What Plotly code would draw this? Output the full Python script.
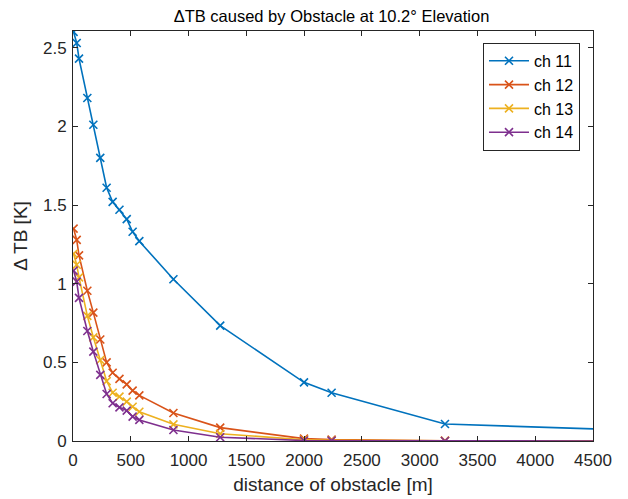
import plotly.graph_objects as go

# distances of obstacle [m] (shared by all channels; last point lies beyond the axis limit)
distance = [5, 32, 52, 124, 176, 236, 291, 343, 402, 465, 516, 574, 869, 1274, 1999, 2238, 3219, 4700]

ch11 = [2.60, 2.53, 2.43, 2.18, 2.01, 1.80, 1.61, 1.52, 1.47, 1.41, 1.33, 1.27,
        1.028, 0.733, 0.373, 0.307, 0.108, 0.072]
ch12 = [1.35, 1.278, 1.18, 0.955, 0.816, 0.645, 0.50, 0.434, 0.395, 0.36, 0.32, 0.29,
        0.178, 0.085, 0.015, 0.009, 0.002, 0.001]
ch13 = [1.19, 1.12, 1.04, 0.795, 0.659, 0.515, 0.381, 0.307, 0.282, 0.25, 0.218, 0.186,
        0.106, 0.046, 0.008, 0.005, 0.001, 0.0]
ch14 = [1.083, 1.013, 0.91, 0.699, 0.568, 0.42, 0.299, 0.24, 0.214, 0.193, 0.155, 0.134,
        0.07, 0.024, 0.003, 0.002, 0.0, 0.0]

series = [("ch 11", ch11, "#0072BD"),
          ("ch 12", ch12, "#D95319"),
          ("ch 13", ch13, "#EDB120"),
          ("ch 14", ch14, "#7E2F8E")]

font = "Liberation Sans, Arial, sans-serif"
axis_color = "#262626"

fig = go.Figure()
for name, vals, col in series:
    fig.add_trace(go.Scatter(
        x=distance, y=vals, name=name, mode="lines+markers",
        line=dict(color=col, width=1.6),
        marker=dict(symbol="x-thin", size=8, line=dict(width=1.6, color=col)),
        cliponaxis=True,
    ))

axis_common = dict(
    showline=True, linecolor=axis_color, linewidth=1, mirror="ticks",
    ticks="inside", ticklen=5, tickcolor=axis_color,
    showgrid=False, zeroline=False,
    tickfont=dict(family=font, size=17, color=axis_color),
)

# the page adds an 8px body margin, so margins are shifted to compensate
fig.update_layout(
    width=628, height=499,
    margin=dict(l=62, r=43, t=23, b=66),
    paper_bgcolor="white", plot_bgcolor="white",
    font=dict(family=font, color=axis_color),
    title=dict(text="ΔTB caused by Obstacle at 10.2° Elevation",
               x=(62 + 523 / 2) / 628, xanchor="center", y=1 - 8 / 499, yanchor="middle",
               font=dict(family=font, size=16.5, color="black")),
    xaxis=dict(range=[0, 4500], tickvals=list(range(0, 4501, 500)),
               ticklabelstandoff=4,
               title=dict(text="distance of obstacle [m]", standoff=8,
                          font=dict(family=font, size=19, color=axis_color)),
               **axis_common),
    yaxis=dict(range=[0, 2.606], tickvals=[0, 0.5, 1, 1.5, 2, 2.5],
               ticktext=["0", "0.5", "1", "1.5", "2", "2.5"],
               ticklabelstandoff=2,
               title=dict(text="Δ TB [K]", standoff=10,
                          font=dict(family=font, size=19, color=axis_color)),
               **axis_common),
    legend=dict(x=0.975, y=0.971, xanchor="right", yanchor="top",
                bgcolor="white", bordercolor=axis_color, borderwidth=1,
                font=dict(family=font, size=16, color="black"),
                tracegroupgap=0, itemwidth=40),
    showlegend=True,
)

fig.write_html("out.html")
